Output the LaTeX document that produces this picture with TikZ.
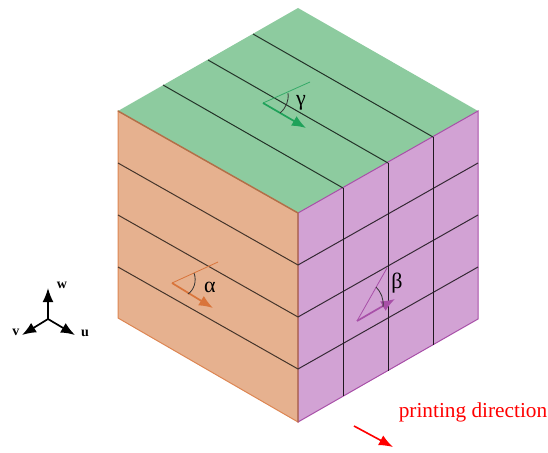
\documentclass[tikz,border=0pt]{standalone}
\usepackage{xcolor}
\usepackage{fontspec}
\setmainfont{Liberation Serif}
\usepackage{tikz}
\usetikzlibrary{arrows.meta, calc}
\definecolor{topgreen}{HTML}{8DCB9F}
\definecolor{leftorange}{HTML}{E6B18F}
\definecolor{rightpurple}{HTML}{D2A2D4}
\definecolor{darkgreen}{HTML}{1FA25A}
\definecolor{darkorange}{HTML}{D9743A}
\definecolor{darkpurple}{HTML}{A850A8}
\definecolor{edgebrown}{HTML}{B0704A}

\begin{document}
\begin{tikzpicture}[x=1pt, y=-1pt,
  arrow/.style={-{Latex[length=14pt, width=11pt]}, line width=1.7pt},
  thinline/.style={line width=0.8pt},
  layer/.style={line width=1pt},
  axis/.style={-{Latex[length=14pt, width=11pt]}, line width=1.7pt, black},
  axislabel/.style={font=\bfseries\fontsize{14}{15}\selectfont, inner sep=0pt},
  anglelabel/.style={font=\fontsize{22}{24}\selectfont, inner sep=0pt},
  anglearc/.style={line width=0.8pt, black!80}
]
\useasboundingbox (0,0) rectangle (548,452);
% cube corners
\coordinate (top) at (298,8);
\coordinate (left) at (118,111);
\coordinate (right) at (478,111);
\coordinate (front) at (298,213);
\coordinate (leftlow) at (118,318);
\coordinate (rightlow) at (478,319);
\coordinate (bottom) at (298,422);
% faces
\fill[topgreen] (top) -- (right) -- (front) -- (left) -- cycle;
\draw[fill=leftorange, draw=darkorange!70!leftorange, line width=1pt] (left) -- (front) -- (bottom) -- (leftlow) -- cycle;
\draw[fill=rightpurple, draw=darkpurple, line width=1pt] (front) -- (right) -- (rightlow) -- (bottom) -- cycle;
\draw[edgebrown, line width=1.4pt] (left) -- (front) -- (bottom);
% layers
\foreach \a/\b in {163/265,215/317,267/369} \draw[layer, black!70!leftorange] (118,\a) -- (298,\b);
\foreach \a/\b in {265/163,317/215,369/267} \draw[layer, black!75!rightpurple] (298,\a) -- (478,\b);
\foreach \x/\a/\b in {343/188/396,388/163/371,433/137/345} \draw[layer, black!85!rightpurple] (\x,\a) -- (\x,\b);
\foreach \a/\b/\c/\d in {163/85/343/188,208/60/388/163,253/34/433/137} \draw[layer, black!75!topgreen] (\a,\b) -- (\c,\d);
% gamma
\coordinate (gbase) at (263,103);
\draw[thinline, darkgreen!80!topgreen] (gbase) -- (310,82);
\draw[arrow, darkgreen] (gbase) -- (306,128);
\draw[anglearc] (288,93) .. controls (289,101) and (286,108) .. (280,113);
\node[anglelabel] (gammalabel) at (301,103) {γ};
% alpha
\coordinate (abase) at (172,283);
\draw[thinline, darkorange] (abase) -- (218,262);
\draw[arrow, darkorange] (abase) -- (213,308);
\draw[anglearc] (194,273) .. controls (197,281) and (194,290) .. (188,294);
\node[anglelabel] (alphalabel) at (210,287) {α};
% beta
\coordinate (bbase) at (357,321);
\draw[thinline, darkpurple] (bbase) -- (387,268);
\draw[arrow, darkpurple] (bbase) -- (395,299);
\draw[anglearc] (376,287) .. controls (381,292) and (384,299) .. (383,307);
\node[anglelabel] (betalabel) at (397,283) {β};
% axes
\coordinate (axo) at (48,319);
\draw[axis] (axo) -- (48,288);
\draw[axis] (axo) -- (22,335);
\draw[axis] (axo) -- (75,335);
\node[axislabel] (wlabel) at (62,285) {w};
\node[axislabel] (vlabel) at (16,332) {v};
\node[axislabel] (ulabel) at (85,333) {u};
% printing direction
\draw[-{Latex[length=14pt, width=11pt]}, line width=1.6pt, red] (354,426) -- (393,447);
\node[red, font=\fontsize{21.3}{23}\selectfont, inner sep=0pt] (printlabel) at (473,412) {printing direction};
\end{tikzpicture}
\end{document}
